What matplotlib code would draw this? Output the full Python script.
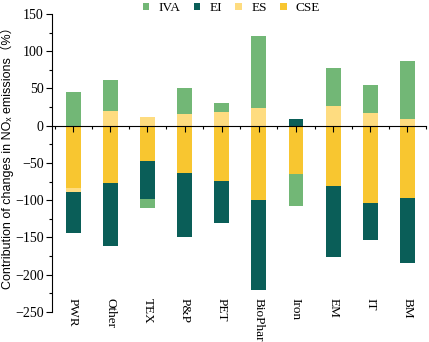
import numpy as np
import matplotlib
matplotlib.use('Agg')
import matplotlib.pyplot as plt
from matplotlib.patches import Patch
from matplotlib.ticker import MultipleLocator
from matplotlib.transforms import blended_transform_factory

sectors = ['PWR', 'Other', 'TEX', 'P&P', 'PET', 'BioPhar', 'Iron', 'EM', 'IT', 'BM']

# contributions of each factor (%) by sector
cse = [-83, -77, -48, -63, -74, -100, -65, -81, -104, -97]
es = [-6.5, 20, 12, 16, 19, 24, 0, 27, 17, 8.5]
ei = [-55, -84, -50, -86, -56, -120, 9.5, -95, -49, -88]
iva = [45, 42, -13, 34, 12, 96.5, -43, 50, 38, 78]

series = [('CSE', cse, '#f8c630'),
          ('ES', es, '#fedc80'),
          ('EI', ei, '#0a5e58'),
          ('IVA', iva, '#72b776')]

fig = plt.figure(figsize=(4.29, 3.42), dpi=100)
ax = fig.add_axes([0.121, 0.088, 0.872, 0.871])

x = np.arange(len(sectors))
pos_base = np.zeros(len(sectors))
neg_base = np.zeros(len(sectors))
for name, vals, col in series:
    v = np.array(vals, dtype=float)
    base = np.where(v >= 0, pos_base, neg_base)
    ax.bar(x, v, width=0.4, bottom=base, color=col, edgecolor='none')
    pos_base = pos_base + np.where(v > 0, v, 0)
    neg_base = neg_base + np.where(v < 0, v, 0)

ax.set_xlim(-0.57, 9.5)
ax.set_ylim(-250, 150)

ax.spines['top'].set_visible(False)
ax.spines['right'].set_visible(False)
ax.spines['bottom'].set_position(('data', 0))
ax.spines['left'].set_linewidth(0.8)
ax.spines['bottom'].set_linewidth(0.8)

ax.set_xticks(x)
ax.set_xticklabels([])
ax.xaxis.set_minor_locator(MultipleLocator(1, offset=0.5))
ax.yaxis.set_major_locator(MultipleLocator(50))
ax.yaxis.set_minor_locator(MultipleLocator(25))
ax.tick_params(axis='both', which='major', length=4, width=0.8, direction='out')
ax.tick_params(axis='both', which='minor', length=2, width=0.8, direction='out')
ax.tick_params(axis='y', labelsize=10, pad=2)
for lab in ax.get_yticklabels():
    lab.set_family('Liberation Serif')

trans = blended_transform_factory(ax.transData, ax.transData)
for i, s in enumerate(sectors):
    ax.text(i, -232, s, rotation=-90, ha='center', va='top', fontsize=9.5,
            family='Liberation Serif', transform=trans)

ax.set_ylabel('Contribution of changes in NOₓ emissions（%）', fontsize=9,
              family=['Liberation Sans', 'DejaVu Sans', 'Noto Sans CJK SC'])
ax.yaxis.set_label_coords(-0.102, 0.527)

handles = [Patch(facecolor=col, label=name) for name, vals, col in series[::-1]]
ax.legend(handles=handles, loc='center', bbox_to_anchor=(0.48, 1.02), ncol=4,
          frameon=False, handlelength=0.5, handleheight=0.5, columnspacing=1.0,
          handletextpad=0.7, prop={'family': 'Liberation Serif', 'size': 9.5})

fig.savefig('out.png', dpi=100)
